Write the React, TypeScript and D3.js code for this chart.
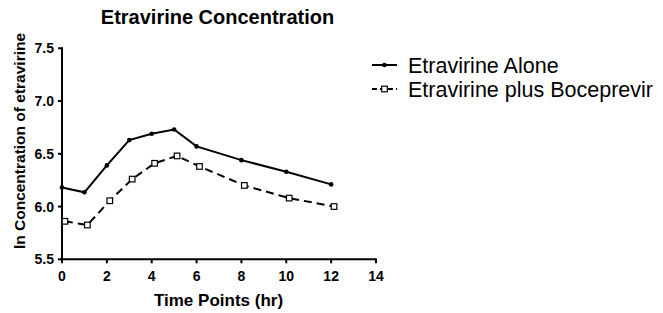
import React from "react";
import * as d3 from "d3";

const timePoints = [0, 1, 2, 3, 4, 5, 6, 8, 10, 12];
const aloneValues = [6.18, 6.135, 6.39, 6.63, 6.69, 6.73, 6.57, 6.44, 6.33, 6.21];
const boceprevirValues = [5.86, 5.825, 6.055, 6.26, 6.41, 6.48, 6.38, 6.2, 6.08, 6.0];
const xTicks = [0, 2, 4, 6, 8, 10, 12, 14];
const yTicks = [5.5, 6.0, 6.5, 7.0, 7.5];
const seriesNames = ["Etravirine Alone", "Etravirine plus Boceprevir"];
const xOffsetBoce = 0.13;

export default function App() {
  const W = 663, H = 313;
  const left = 62, right = 376, top = 48.3, bottom = 259.3;
  const x = d3.scaleLinear().domain([0, 14]).range([left, right]);
  const y = d3.scaleLinear().domain([5.5, 7.5]).range([bottom, top]);
  const line = d3.line<[number, number]>().x(d => x(d[0])).y(d => y(d[1]));
  const alonePts: [number, number][] = timePoints.map((t, i) => [t, aloneValues[i]]);
  const bocePts: [number, number][] = timePoints.map((t, i) => [t + xOffsetBoce, boceprevirValues[i]]);
  const font = "Arial, 'Liberation Sans', sans-serif";
  return (
    <svg width={W} height={H} style={{ position: "absolute", left: 0, top: 0 }} fontFamily={font}>
      <rect width={W} height={H} fill="#fff" />
      <text x={217.5} y={24} textAnchor="middle" fontSize={20} fontWeight="bold">Etravirine Concentration</text>
      {/* axes */}
      <line x1={left} x2={left} y1={top - 1} y2={bottom + 1} stroke="#000" strokeWidth={2} />
      <line x1={left - 1} x2={right + 1} y1={bottom} y2={bottom} stroke="#000" strokeWidth={2} />
      {yTicks.map(v => (
        <g key={"y" + v}>
          <line x1={left - 4} x2={left} y1={y(v)} y2={y(v)} stroke="#000" strokeWidth={2} />
          <text x={left - 8} y={y(v)} dy="0.36em" textAnchor="end" fontSize={14} fontWeight="bold">{d3.format(".1f")(v)}</text>
        </g>
      ))}
      {xTicks.map(v => (
        <g key={"x" + v}>
          <line x1={x(v)} x2={x(v)} y1={bottom} y2={bottom + 4} stroke="#000" strokeWidth={2} />
          <text x={x(v)} y={281} textAnchor="middle" fontSize={14} fontWeight="bold">{v}</text>
        </g>
      ))}
      <text x={218.5} y={306} textAnchor="middle" fontSize={17} fontWeight="bold">Time Points (hr)</text>
      <text transform={`translate(25,${141}) rotate(-90)`} textAnchor="middle" fontSize={15.5} fontWeight="bold">ln Concentration of etravirine</text>
      {/* series */}
      <path d={line(alonePts) || ""} fill="none" stroke="#000" strokeWidth={2} />
      {alonePts.map((p, i) => (
        <circle key={"a" + i} cx={x(p[0])} cy={y(p[1])} r={2.3} fill="#000" />
      ))}
      <path d={line(bocePts) || ""} fill="none" stroke="#000" strokeWidth={2} strokeDasharray="8,5" />
      {bocePts.map((p, i) => (
        <rect key={"b" + i} x={x(p[0]) - 2.8} y={y(p[1]) - 2.8} width={5.6} height={5.6} fill="#fff" stroke="#000" strokeWidth={1.2} />
      ))}
      {/* legend */}
      <line x1={372} x2={397} y1={65} y2={65} stroke="#000" strokeWidth={2} />
      <circle cx={384.5} cy={65} r={2.3} fill="#000" />
      <text x={408} y={65} dy="0.36em" fontSize={21.5}>{seriesNames[0]}</text>
      <line x1={372} x2={397} y1={89} y2={89} stroke="#000" strokeWidth={2} strokeDasharray="5,3" />
      <rect x={381.7} y={86.2} width={5.6} height={5.6} fill="#fff" stroke="#000" strokeWidth={1.2} />
      <text x={408} y={89} dy="0.36em" fontSize={21.5}>{seriesNames[1]}</text>
    </svg>
  );
}
